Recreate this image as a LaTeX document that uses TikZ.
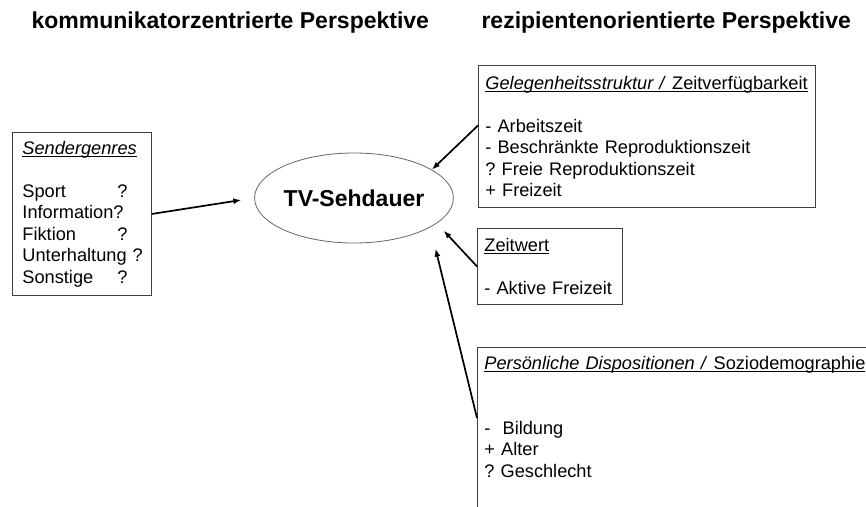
\documentclass[tikz,border=0pt]{standalone}
\usepackage{fontspec}
\setmainfont{Liberation Sans}
\usepackage{tikz}
\usetikzlibrary{shapes.geometric,arrows.meta}
\frenchspacing
\newcommand{\unterstr}[1]{\leavevmode\setbox0\hbox{#1}\rlap{\rule[-2.6pt]{\wd0}{0.9pt}}\box0}
\tikzstyle{infobox} = [draw=black!75, line width=0.9pt, fill=white, rectangle, align=left, anchor=north west, inner xsep=7pt, font=\fontsize{18.2}{21.5}\selectfont]
\tikzstyle{perspektive} = [anchor=base west, font=\fontsize{23}{27}\selectfont\bfseries]
\tikzstyle{zentrum} = [draw=black!60, line width=0.8pt, ellipse, minimum width=192pt, minimum height=90pt, inner sep=0pt, font=\fontsize{23}{27}\selectfont\bfseries]
\tikzstyle{pfeil} = [-{Latex[length=8pt,width=6pt]}, line width=1.7pt]

\begin{document}
\begin{tikzpicture}[x=1pt,y=-1pt]
	\path[fill=white, use as bounding box] (0,0) rectangle (866,506);
	\clip (0,0) rectangle (866,506);
	% Perspektiven
	\node[perspektive] (kommunikator) at (28,28) {kommunikatorzentrierte Perspektive};
	\node[perspektive] (rezipient) at (478,28) {rezipientenorientierte Perspektive};
	% Mitte
	\node[zentrum] (sehdauer) at (354,198) {TV-Sehdauer};
	% Kaesten
	\node[infobox, inner xsep=10pt, text width=119pt, minimum height=163pt] (genres) at (12,132) {
		\unterstr{\textit{Sendergenres}}\\ \mbox{}\\
		\makebox[95pt][l]{Sport}?\\
		Information?\\
		\makebox[95pt][l]{Fiktion}?\\
		\mbox{Unterhaltung ?}\\
		\makebox[95pt][l]{Sonstige}?};
	\node[infobox, text width=323pt, minimum height=142pt] (gelegenheit) at (478,65) {
		\unterstr{\textit{Gelegenheitsstruktur /} Zeitverfügbarkeit}\\ \mbox{}\\
		- Arbeitszeit\\
		- Beschränkte Reproduktionszeit\\
		? Freie Reproduktionszeit\\
		+ Freizeit};
	\node[infobox, text width=131pt, minimum height=76pt] (zeitwert) at (477,228) {
		\unterstr{Zeitwert}\\ \mbox{}\\
		- Aktive Freizeit};
	\node[infobox, text width=420pt, inner ysep=9pt] (dispositionen) at (477,347) {
		\unterstr{\textit{Persönliche Dispositionen /} Soziodemographie}\\ \mbox{}\\ \mbox{}\\
		-\ \ Bildung\\
		+ Alter\\
		? Geschlecht\\ \mbox{}\\ \mbox{}};
	% Pfeile
	\draw[pfeil, shorten >=13pt] (genres.east) -- (sehdauer.west);
	\draw[pfeil] ([yshift=11pt]gelegenheit.west) -- (sehdauer.20);
	\draw[pfeil, shorten >=10pt] (zeitwert.west) -- (sehdauer.-17);
	\draw[pfeil, shorten >=22pt] ([yshift=-71pt]dispositionen.north west) -- (sehdauer.-21);
\end{tikzpicture}
\end{document}
